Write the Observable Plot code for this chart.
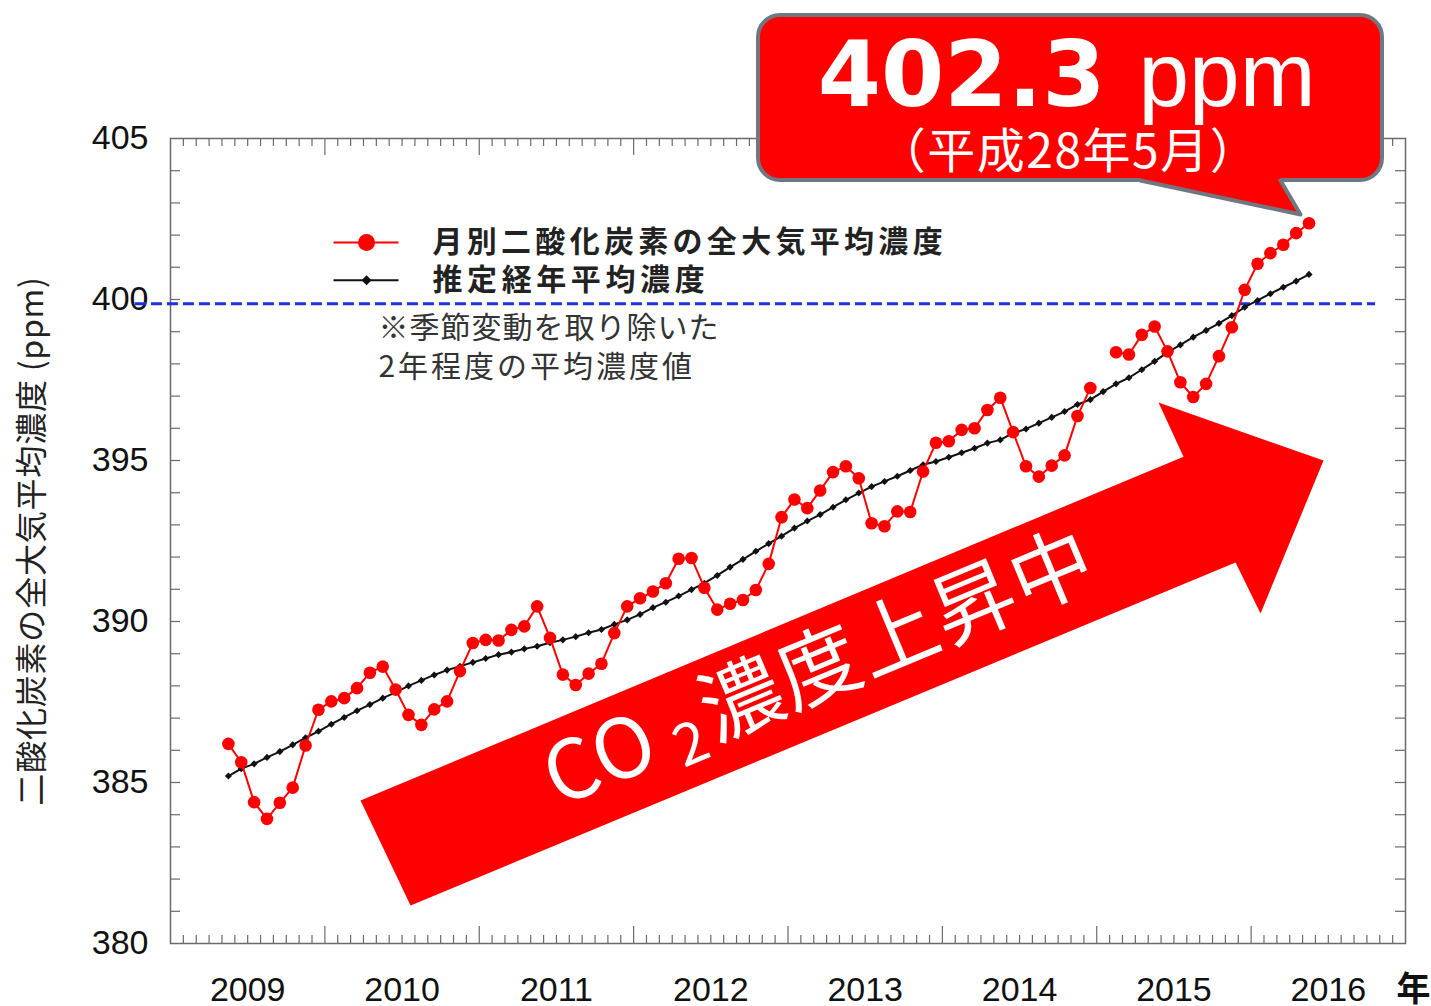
<!DOCTYPE html>
<html><head><meta charset="utf-8">
<script src="https://cdn.jsdelivr.net/npm/d3@7"></script>
<script src="https://cdn.jsdelivr.net/npm/@observablehq/plot@0.6"></script>
<style>
body{margin:0;background:#fff;}
#chart svg{display:block;}
</style>
</head><body><div id="chart"></div>
<script>
// ---------- data ----------
const startYear = 2009, startMonth = 5; // first monthly value: May 2009, last: May 2016
// monthly whole-atmosphere mean CO2 (ppm); null = missing month
const monthlyCO2 = [
  386.20, 385.63, 384.39, 383.87, 384.37, 384.84, 386.15, 387.26,
  387.52, 387.62, 387.93, 388.41, 388.60, 387.89, 387.10, 386.79, 387.27, 387.52, 388.46, 389.33,
  389.43, 389.41, 389.74, 389.85, 390.47, 389.49, 388.35, 388.03, 388.38, 388.69, 389.64, 390.47,
  390.72, 390.93, 391.19, 391.95, 391.97, 391.05, 390.37, 390.55, 390.67, 390.98, 391.79, 393.24,
  393.79, 393.52, 394.07, 394.64, 394.82, 394.45, 393.05, 392.96, 393.42, 393.40, 394.66, 395.55,
  395.60, 395.95, 396.00, 396.57, 396.95, 395.88, 394.82, 394.50, 394.84, 395.16, 396.38, 397.25,
  null,   398.36, 398.29, 398.90, 399.16, 398.39, 397.43, 396.97, 397.38, 398.24, 399.14, 400.30,
  401.11, 401.44, 401.70, 402.06, 402.37
];
// estimated trend (seasonal cycle removed)
const trendCO2 = [
  385.20, 385.43, 385.58, 385.78, 385.96, 386.17, 386.39, 386.59,
  386.81, 387.02, 387.23, 387.42, 387.62, 387.80, 388.00, 388.17, 388.34, 388.49, 388.61, 388.73,
  388.85, 388.97, 389.05, 389.15, 389.23, 389.34, 389.43, 389.53, 389.65, 389.75, 389.91, 390.05,
  390.22, 390.43, 390.60, 390.79, 390.99, 391.19, 391.43, 391.69, 391.93, 392.18, 392.42, 392.65,
  392.90, 393.12, 393.32, 393.55, 393.78, 393.99, 394.19, 394.35, 394.51, 394.69, 394.87, 394.97,
  395.10, 395.24, 395.38, 395.54, 395.64, 395.85, 395.98, 396.16, 396.34, 396.52, 396.74, 396.89,
  397.14, 397.38, 397.57, 397.82, 398.08, 398.36, 398.59, 398.83, 399.04, 399.26, 399.50, 399.76,
  399.97, 400.18, 400.38, 400.57, 400.78
];
const yearLabels = [2009, 2010, 2011, 2012, 2013, 2014, 2015, 2016];
const yTickLabels = [380, 385, 390, 395, 400, 405];
const referenceLevel = [{v: 399.87, from: 2008.773, to: 2016.806}];
const latestLabel = "402.3";
const latestUnit = "ppm";
const latestDate = "（平成28年5月）";
const seriesNames = ["月別二酸化炭素の全大気平均濃度", "推定経年平均濃度"];
const noteLines = ["※季節変動を取り除いた", "2年程度の平均濃度値"];
const yTitle = "二酸化炭素の全大気平均濃度 (ppm)";
const xUnit = "年";
const arrowLabel = "CO2濃度上昇中";

// ---------- annotation geometry (data coordinates) ----------
const arrowShape = [
  {t: 2010.231, v: 384.44}, {t: 2015.562, v: 395.12}, {t: 2015.400, v: 396.80},
  {t: 2016.469, v: 395.00}, {t: 2016.061, v: 390.25}, {t: 2015.899, v: 391.83},
  {t: 2010.555, v: 381.18}
];
const arrowTextPos = [{t: 2013.21, v: 388.50}];
const calloutBox = [{x1: 2012.809, x2: 2016.851, y1: 403.696, y2: 408.820}];
const pointerFill = [
  {t: 2015.283, v: 403.944}, {t: 2015.283, v: 403.696}, {t: 2016.320, v: 402.640},
  {t: 2016.190, v: 403.696}, {t: 2016.190, v: 403.944}
];
const pointerEdge = [{t: 2015.283, v: 403.696}, {t: 2016.320, v: 402.640}, {t: 2016.190, v: 403.696}];
const legendPos = {x1: 2010.056, x2: 2010.477, xm: 2010.270, xt: 2010.697, y: [401.77, 400.60]};
const notePos = {x: 2010.347, y: [399.10, 397.89]};

// ---------- build ----------
const rows = monthlyCO2.map((v, i) => ({
  t: startYear + (startMonth - 1 + i + 0.5) / 12,
  monthly: v,
  trend: trendCO2[i]
}));
const minorX = d3.range(1, 96).filter(k => k % 12 !== 0).map(k => 2009 + k / 12);
const majorX = d3.range(2010, 2017);
const minorY = d3.range(381, 405);

const W = 1431, H = 1006, mL = 170, mR = 26, mT = 138, mB = 63;
const pw = W - mL - mR, ph = H - mT - mB;
const jp = "'Noto Sans CJK JP', 'Noto Sans', sans-serif";
const latin = "'Liberation Sans', Arial, sans-serif";
const red = "#ff0000", axisGray = "#6a6a6a";

const plot = Plot.plot({
  width: W, height: H,
  marginLeft: mL, marginRight: mR, marginTop: mT, marginBottom: mB,
  x: {domain: [2009, 2017]},
  y: {domain: [380, 405]},
  style: {fontFamily: latin, background: "#fff", color: "#111", overflow: "visible"},
  marks: [
    // frame & inward ticks
    Plot.tickX(minorX, {x: d => d, insetTop: ph - 8, stroke: axisGray, strokeWidth: 1.2}),
    Plot.tickX(minorX, {x: d => d, insetBottom: ph - 8, stroke: axisGray, strokeWidth: 1.2}),
    Plot.tickX(majorX, {x: d => d, insetTop: ph - 17, stroke: axisGray, strokeWidth: 1.2}),
    Plot.tickX(majorX, {x: d => d, insetBottom: ph - 17, stroke: axisGray, strokeWidth: 1.2}),
    Plot.tickY(minorY, {y: d => d, insetRight: pw - 10, stroke: axisGray, strokeWidth: 1.2}),
    Plot.tickY(minorY, {y: d => d, insetLeft: pw - 10, stroke: axisGray, strokeWidth: 1.2}),
    Plot.frame({stroke: axisGray, strokeWidth: 1.5}),
    Plot.axisY({ticks: yTickLabels, tickSize: 0, tickPadding: 22, fontSize: 34, label: null, fill: "#111"}),
    Plot.axisX({ticks: yearLabels.map(y => y + 0.5), tickSize: 0, tickPadding: 33, fontSize: 34,
      tickFormat: d => String(Math.floor(d)), label: null, fill: "#111"}),
    // big arrow
    Plot.line(arrowShape, {x: "t", y: "v", fill: red, stroke: "none", curve: "linear"}),
    Plot.text(arrowTextPos, {x: "t", y: "v", text: () => arrowLabel, rotate: -22.6, fill: "#fff",
      fontSize: 82, fontFamily: jp, textAnchor: "middle", lineAnchor: "middle"}),
    // 400 ppm reference
    Plot.ruleY(referenceLevel, {y: "v", x1: "from", x2: "to", stroke: "#1d2fe0", strokeWidth: 3, strokeDasharray: "11,5"}),
    // trend
    Plot.line(rows, {x: "t", y: "trend", stroke: "#111", strokeWidth: 2}),
    Plot.dot(rows, {x: "t", y: "trend", symbol: "diamond2", r: 3.2, fill: "#111", stroke: "none"}),
    // monthly
    Plot.line(rows, {x: "t", y: "monthly", stroke: red, strokeWidth: 2}),
    Plot.dot(rows.filter(d => d.monthly != null), {x: "t", y: "monthly", r: 6.3, fill: red, stroke: "none"}),
    // legend
    Plot.link([0, 1], {x1: () => legendPos.x1, x2: () => legendPos.x2, y1: i => legendPos.y[i], y2: i => legendPos.y[i],
      stroke: i => i === 0 ? red : "#111", strokeWidth: 2}),
    Plot.dot([0], {x: () => legendPos.xm, y: i => legendPos.y[i], r: 8.5, fill: red}),
    Plot.dot([1], {x: () => legendPos.xm, y: i => legendPos.y[i], symbol: "diamond2", r: 4.5, fill: "#111"}),
    Plot.text([0, 1], {x: () => legendPos.xt, y: i => legendPos.y[i], text: i => seriesNames[i],
      textAnchor: "start", lineAnchor: "middle", fontSize: 30, fontWeight: "bold", fontFamily: jp, fill: "#222"}),
    Plot.text([0, 1], {x: () => notePos.x, y: i => notePos.y[i], text: i => noteLines[i],
      textAnchor: "start", lineAnchor: "middle", fontSize: 30, fontFamily: jp, fill: "#333"}),
    // axis titles
    Plot.text([yTitle], {frameAnchor: "left", dx: -138, rotate: -90, text: d => d, fontSize: 32,
      fontFamily: jp, fill: "#222", textAnchor: "middle", lineAnchor: "middle"}),
    Plot.text([xUnit], {frameAnchor: "bottom-right", dx: 8, dy: 47, text: d => d, fontSize: 34,
      fontWeight: "bold", fontFamily: jp, fill: "#111", textAnchor: "middle", lineAnchor: "middle"}),
    // callout
    Plot.rect(calloutBox, {x1: "x1", x2: "x2", y1: "y1", y2: "y2", rx: 22, fill: red, stroke: "#6f7880", strokeWidth: 4}),
    Plot.line(pointerFill, {x: "t", y: "v", fill: red, stroke: "none"}),
    Plot.line(pointerEdge, {x: "t", y: "v", stroke: "#6f7880", strokeWidth: 4, strokeLinejoin: "round"}),
    Plot.text([latestLabel], {x: () => 2015.057, y: () => 406.02, text: d => d, textAnchor: "end", lineAnchor: "bottom",
      fontSize: 91, fontWeight: "bold", fontFamily: "'DejaVu Sans', sans-serif", fill: "#fff"}),
    Plot.text([latestUnit], {x: () => 2015.27, y: () => 406.02, text: d => d, textAnchor: "start", lineAnchor: "bottom",
      fontSize: 91, fontFamily: latin, fill: "#fff"}),
    Plot.text([latestDate], {x: () => 2014.817, y: () => 404.56, text: d => d, textAnchor: "middle", lineAnchor: "middle",
      fontSize: 48, fontFamily: jp, fill: "#fff"})
  ]
});

const svg = d3.select(plot);
const byText = s => svg.selectAll("text").filter(function() { return this.textContent === s; });

// letter spacing to match the reference's wide Japanese lettering
byText(seriesNames[0]).style("letter-spacing", "4.3px");
byText(seriesNames[1]).style("letter-spacing", "4.6px");
byText(noteLines[0]).style("letter-spacing", "1px");
byText(noteLines[1]).style("letter-spacing", "3px");
byText(yTitle).style("letter-spacing", "0.8px");
byText(latestDate).style("letter-spacing", "1.5px");

// subscript for CO2 in the arrow label
byText(arrowLabel).each(function() {
  const t = d3.select(this);
  t.text(null).style("letter-spacing", "2px");
  t.append("tspan").text("CO");
  t.append("tspan").attr("dx", 16).attr("dy", 12).attr("font-size", 58).text("2");
  t.append("tspan").attr("dx", 4).attr("dy", -12).text("濃度上昇中");
});

document.getElementById("chart").appendChild(plot);
</script>
</body></html>
